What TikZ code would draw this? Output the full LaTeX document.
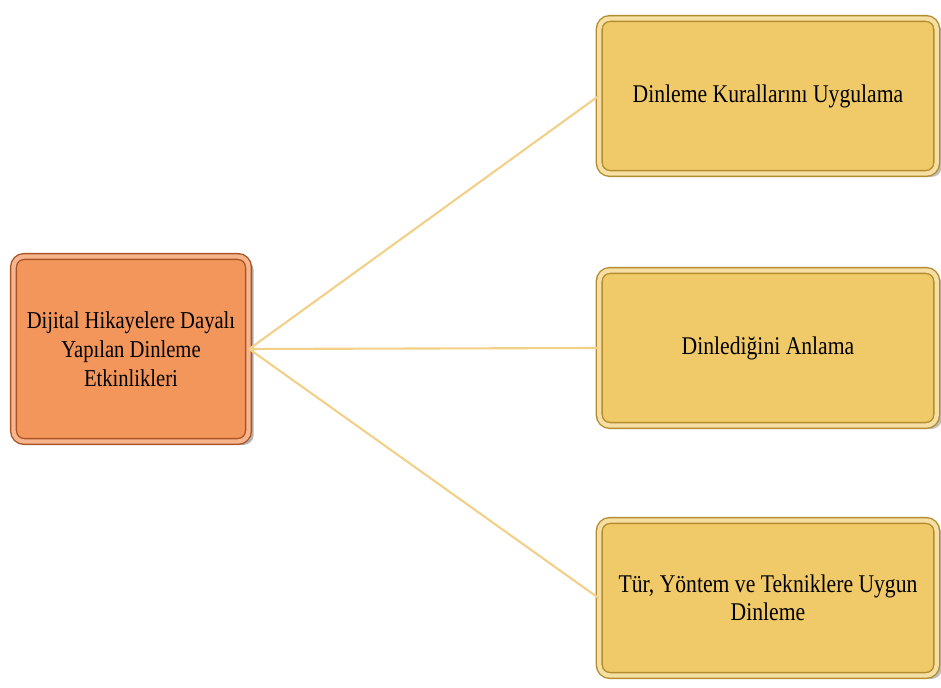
\documentclass[tikz,border=0pt]{standalone}
\usepackage{fontspec}
\setmainfont[FakeStretch=0.85]{Liberation Serif}
\usetikzlibrary{shadows}
\definecolor{orangefill}{RGB}{243,150,92}
\definecolor{orangeedge}{RGB}{170,85,40}
\definecolor{goldfill}{RGB}{240,201,105}
\definecolor{goldedge}{RGB}{180,140,45}
\definecolor{linkgold}{RGB}{242,208,135}

\begin{document}
\begin{tikzpicture}[x=0.02cm, y=-0.02cm,
          rootbox/.style={rectangle, rounded corners=6pt, draw=orangeedge, double=orangefill!70!white,
            double distance=2.5pt, line width=0.8pt, fill=orangefill, minimum width=4.7cm, minimum height=3.7cm,
            align=center, font=\fontsize{13.8}{16.4}\selectfont,
            drop shadow={opacity=0.6, shadow xshift=3pt, shadow yshift=-2pt}},
          leafbox/.style={rectangle, rounded corners=6pt, draw=goldedge, double=goldfill!60!white,
            double distance=2.5pt, line width=0.8pt, fill=goldfill, minimum width=6.75cm, minimum height=3.1cm,
            align=center, font=\fontsize{14.5}{16}\selectfont,
            drop shadow={opacity=0.5, shadow xshift=3pt, shadow yshift=-2pt}},
          link/.style={draw=linkgold, line width=1.2pt}]

        \useasboundingbox (0,0) rectangle (941,688);

        \node[rootbox] (root) at (131,349) {Dijital Hikayelere Dayalı\\Yapılan Dinleme\\Etkinlikleri};

        \node[leafbox] (k1) at (768,96) {Dinleme Kurallarını Uygulama};
        \node[leafbox] (k2) at (768,348) {Dinlediğini Anlama};
        \node[leafbox] (k3) at (768,598) {Tür, Yöntem ve Tekniklere Uygun\\Dinleme};

        \draw[link] (root.east) -- (k1.west);
        \draw[link] (root.east) -- (k2.west);
        \draw[link] (root.east) -- (k3.west);

      \end{tikzpicture}
\end{document}
